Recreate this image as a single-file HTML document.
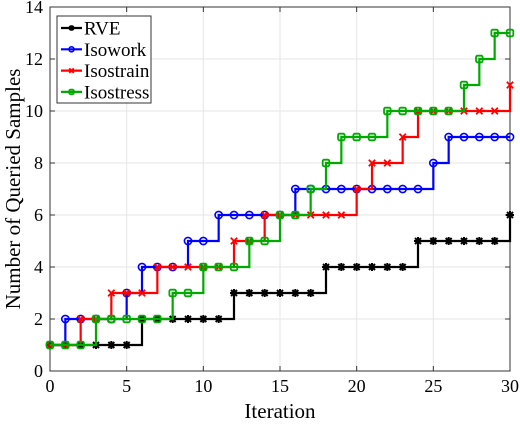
<!DOCTYPE html>
<html><head><meta charset="utf-8"><style>
body{margin:0;background:#fff;}
svg{display:block;font-family:"Liberation Serif",serif;}
</style></head><body>
<svg id="chart" width="520" height="424"></svg>
<script>
const iterations=[0,1,2,3,4,5,6,7,8,9,10,11,12,13,14,15,16,17,18,19,20,21,22,23,24,25,26,27,28,29,30];
const rveValues=[1,1,1,1,1,1,2,2,2,2,2,2,3,3,3,3,3,3,4,4,4,4,4,4,5,5,5,5,5,5,6];
const isoworkValues=[1,2,2,2,2,3,4,4,4,5,5,6,6,6,6,6,7,7,7,7,7,7,7,7,7,8,9,9,9,9,9];
const isostrainValues=[1,1,2,2,3,3,3,4,4,4,4,4,5,5,6,6,6,6,6,6,7,8,8,9,10,10,10,10,10,10,11];
const isostressValues=[1,1,1,2,2,2,2,2,3,3,4,4,4,5,5,6,6,7,8,9,9,9,10,10,10,10,10,11,12,13,13];
const xTicks=[0,5,10,15,20,25,30];
const yTicks=[0,2,4,6,8,10,12,14];
const seriesNames=["RVE","Isowork","Isostrain","Isostress"];
const L=50,R=510,T=7,B=371;
const xs=v=>L+(v-0)/30*(R-L);
const ys=v=>B-(v/14)*(B-T);
const svg=document.getElementById('chart');
const NS='http://www.w3.org/2000/svg';
function mk(tag,attrs,parent){const e=document.createElementNS(NS,tag);for(const k in attrs)e.setAttribute(k,attrs[k]);(parent||svg).appendChild(e);return e;}
xTicks.forEach(t=>{const g=mk('line',{x1:xs(t),x2:xs(t),y1:T,y2:B,stroke:'#e6e6e6','stroke-width':1});

});
yTicks.forEach(t=>{const g=mk('line',{x1:L,x2:R,y1:ys(t),y2:ys(t),stroke:'#e6e6e6','stroke-width':1});

});
xTicks.forEach(t=>{mk('line',{x1:xs(t),x2:xs(t),y1:B,y2:B-5,stroke:'#333'});mk('line',{x1:xs(t),x2:xs(t),y1:T,y2:T+5,stroke:'#333'});
const tx=mk('text',{x:xs(t),y:B+21,'text-anchor':'middle','font-size':18});tx.textContent=t;

});
yTicks.forEach(t=>{mk('line',{x1:L,x2:L+5,y1:ys(t),y2:ys(t),stroke:'#333'});mk('line',{x1:R,x2:R-5,y1:ys(t),y2:ys(t),stroke:'#333'});
const tx=mk('text',{x:L-7,y:ys(t)+6,'text-anchor':'end','font-size':18});tx.textContent=t;

});
const fr=mk('rect',{x:L,y:T,width:R-L,height:B-T,fill:'none',stroke:'#333','stroke-width':1});


const xl=mk('text',{x:(L+R)/2,y:418,'text-anchor':'middle','font-size':21});xl.textContent='Iteration';


const yl=mk('text',{x:0,y:0,'text-anchor':'middle','font-size':21,transform:`translate(20,${(T+B)/2}) rotate(-90)`});yl.textContent='Number of Queried Samples';


function marker(type,x,y,c,parent,k){
 k=k||1;
 if(type==='star'){const s=4*k;mk('path',{d:`M${x-s},${y}H${x+s}M${x},${y-s}V${y+s}M${x-s*.75},${y-s*.75}L${x+s*.75},${y+s*.75}M${x-s*.75},${y+s*.75}L${x+s*.75},${y-s*.75}`,stroke:c,'stroke-width':2},parent);}
 else if(type==='circle'){mk('circle',{cx:x,cy:y,r:3.6*k,fill:'none',stroke:c,'stroke-width':1.6},parent);}
 else if(type==='x'){const s=3.2*k;mk('path',{d:`M${x-s},${y-s}L${x+s},${y+s}M${x-s},${y+s}L${x+s},${y-s}`,stroke:c,'stroke-width':1.8},parent);}
 else {mk('rect',{x:x-3.3*k,y:y-3.3*k,width:6.6*k,height:6.6*k,rx:1.5,fill:'none',stroke:c,'stroke-width':1.8},parent);}
}
const series=[[rveValues,'#000','star','series-rve'],[isoworkValues,'#0000ff','circle','series-isowork'],[isostrainValues,'#ff0000','x','series-isostrain'],[isostressValues,'#00aa00','square','series-isostress']];
series.forEach(([vals,c,m,name])=>{
 const g=mk('g',{});
 
 
 let d=`M${xs(iterations[0])},${ys(vals[0])}`;
 for(let i=1;i<iterations.length;i++){d+=`H${xs(iterations[i])}V${ys(vals[i])}`;}
 mk('path',{d,fill:'none',stroke:c,'stroke-width':2.2},g);
 iterations.forEach((it,i)=>marker(m,xs(it),ys(vals[i]),c,g));
});
const lg=mk('g',{});


mk('rect',{x:57,y:16,width:94,height:87,fill:'#fff',stroke:'#333','stroke-width':1},lg);
series.forEach(([v,c,m],i)=>{const y=28+i*21.3;
 const e=mk('g',{},lg);
 
 
 mk('line',{x1:61,x2:82,y1:y,y2:y,stroke:c,'stroke-width':2.2},e);marker(m,71.5,y,c,e,0.7);
 const t=mk('text',{x:84,y:y+6.5,'font-size':19},e);t.textContent=seriesNames[i];});
</script>
</body></html>
